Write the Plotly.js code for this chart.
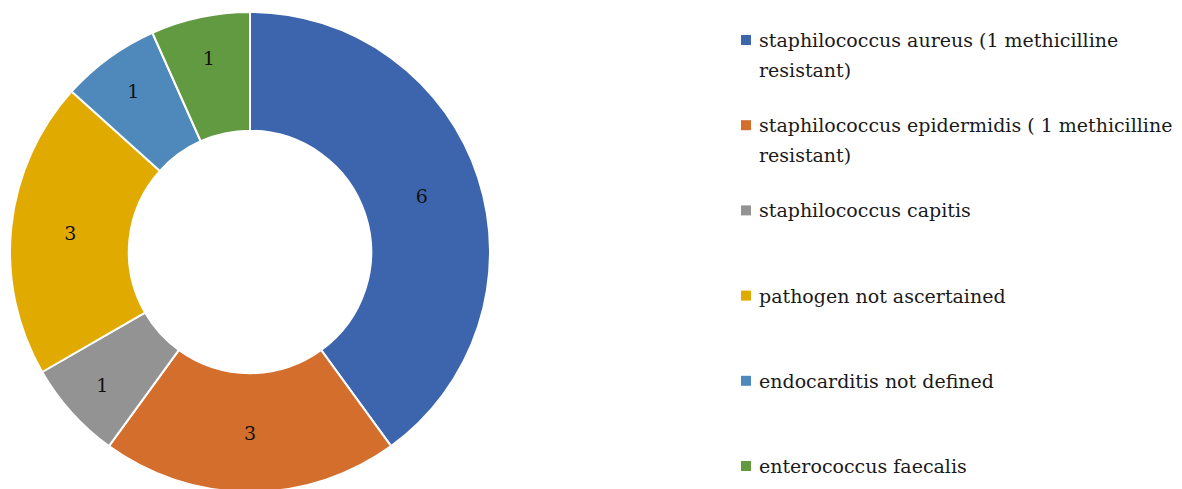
<!DOCTYPE html>
<html>
<head>
<meta charset="utf-8">
<script src="https://cdn.plot.ly/plotly-3.0.1.min.js"></script>
<style>
  html, body { margin: 0; padding: 0; overflow: hidden; background: #fff; }
  #chart { width: 1182px; height: 500px; }
</style>
</head>
<body>
<div id="chart"></div>
<script>
// Infective endocarditis cases by pathogen
const labels = [
  "staphilococcus aureus (1 methicilline<br>resistant)",
  "staphilococcus epidermidis ( 1 methicilline<br>resistant)",
  "staphilococcus capitis",
  "pathogen not ascertained",
  "endocarditis not defined",
  "enterococcus faecalis"
];
const counts = [6, 3, 1, 3, 1, 1];
const colors = ["#3C65AD", "#D36E2D", "#939393", "#E1AA00", "#4F88BB", "#629A41"];

const W = 1182, H = 500;
const FONT = "DejaVu Serif";

// Hand-drawn legend: colour square plus one or two text lines per entry
const annotations = [];
const shapes = [];
const legendTop = 40, legendStep = 85.2, lineStep = 30;
labels.forEach((lab, i) => {
  const yc = legendTop + i * legendStep;
  shapes.push({
    type: "rect", xref: "paper", yref: "paper",
    x0: 741 / W, x1: 751 / W,
    y0: 1 - (yc + 5) / H, y1: 1 - (yc - 5) / H,
    fillcolor: colors[i], line: { width: 0 }
  });
  lab.split("<br>").forEach((line, j) => {
    annotations.push({
      xref: "paper", yref: "paper",
      x: 757 / W, y: 1 - (yc + j * lineStep) / H,
      xanchor: "left", yanchor: "middle",
      text: line, showarrow: false,
      font: { family: FONT, size: 19, color: "#1a1a1a" }
    });
  });
});

const trace = {
  type: "pie",
  labels: labels,
  values: counts,
  hole: 0.505,
  sort: false,
  direction: "clockwise",
  rotation: 0,
  marker: { colors: colors, line: { color: "#ffffff", width: 2 } },
  textinfo: "value",
  textposition: "inside",
  insidetextorientation: "horizontal",
  textfont: { family: FONT, size: 19, color: "#111" },
  showlegend: false,
  domain: { x: [10 / W, 490 / W], y: [8 / H, 488 / H] }
};

Plotly.newPlot("chart", [trace], {
  width: W, height: H,
  margin: { l: 0, r: 0, t: 0, b: 0 },
  paper_bgcolor: "#ffffff",
  showlegend: false,
  annotations: annotations,
  shapes: shapes
}, { displayModeBar: false, staticPlot: true });
</script>
</body>
</html>
